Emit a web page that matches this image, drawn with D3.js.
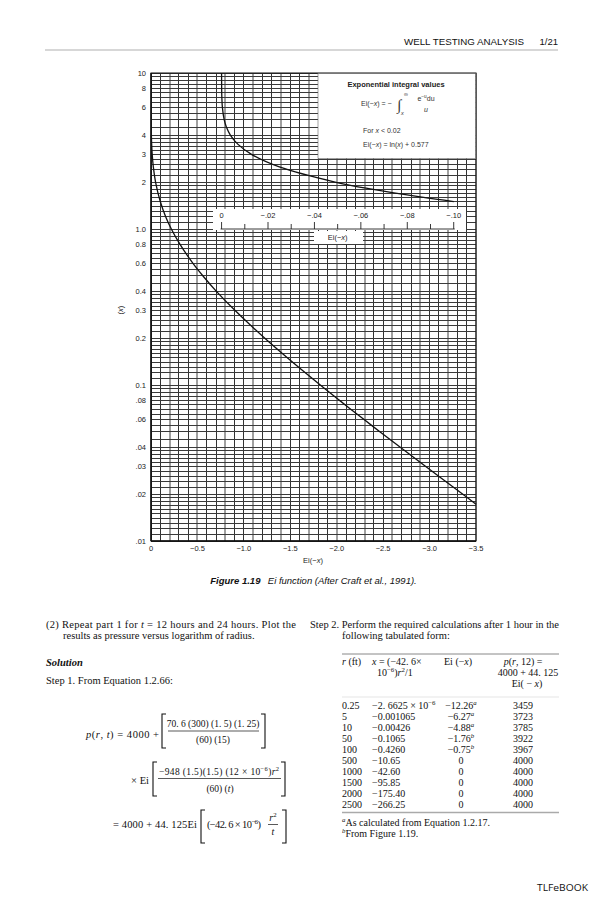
<!DOCTYPE html>
<html><head><meta charset="utf-8">
<script src="https://cdn.jsdelivr.net/npm/d3@7"></script>
<style>body{margin:0;background:#fff} svg{display:block}</style>
</head><body>
<svg id="page" width="604" height="900"></svg>
<script>
// ---------- data ----------
// lower curve: x (log axis) vs Ei(-x) on main bottom scale (0 .. -3.5)
const lowerX  = [4.0, 3.5, 3.0, 2.5, 2.0, 1.5, 1.2, 1.0, 0.8, 0.6, 0.5, 0.4, 0.3, 0.2, 0.15, 0.1, 0.08, 0.06, 0.05, 0.04, 0.03, 0.02, 0.0172];
const lowerEi = [-0.004, -0.007, -0.013, -0.025, -0.049, -0.100, -0.158, -0.219, -0.311, -0.454, -0.560, -0.702, -0.906, -1.223, -1.465, -1.823, -2.027, -2.295, -2.468, -2.681, -2.959, -3.355, -3.50];
// upper curve: x vs Ei(-x) on inset scale (0 .. -0.10)
const upperX  = [10, 8, 7, 6, 5, 4.5, 4, 3.5, 3, 2.5, 2, 1.8, 1.6, 1.5];
const upperEi = [-0.000004, -0.000038, -0.000115, -0.00036, -0.00115, -0.00207, -0.00378, -0.00697, -0.01305, -0.02491, -0.0489, -0.0647, -0.0863, -0.1000];

const xTickValues = [0, -0.5, -1.0, -1.5, -2.0, -2.5, -3.0, -3.5];
const xTickLabels = ["0", "−0.5", "−1.0", "−1.5", "−2.0", "−2.5", "−3.0", "−3.5"];
const yTickValues = [10, 8, 6, 4, 3, 2, 1, 0.8, 0.6, 0.4, 0.3, 0.2, 0.1, 0.08, 0.06, 0.04, 0.03, 0.02, 0.01];
const yTickLabels = ["10", "8", "6", "4", "3", "2", "1.0", "0.8", "0.6", "0.4", "0.3", "0.2", "0.1", ".08", ".06", ".04", ".03", ".02", ".01"];
const upperTickValues = [0, -0.02, -0.04, -0.06, -0.08, -0.10];
const upperTickLabels = ["0", "−.02", "−.04", "−.06", "−.08", "−.10"];

// table
const tableR  = ["0.25", "5", "10", "50", "100", "500", "1000", "1500", "2000", "2500"];
const tableXv = ["−2. 6625 × 10^{−6}", "−0.001065", "−0.00426", "−0.1065", "−0.4260", "−10.65", "−42.60", "−95.85", "−175.40", "−266.25"];
const tableEi = ["−12.26^{*{a}}", "−6.27^{*{a}}", "−4.88^{*{a}}", "−1.76^{*{b}}", "−0.75^{*{b}}", "0", "0", "0", "0", "0"];
const tableP  = ["3459", "3723", "3785", "3922", "3967", "4000", "4000", "4000", "4000", "4000"];

// ---------- helpers ----------
const svg = d3.select("#page");
const SANS = "'Liberation Sans', Arial, Helvetica, sans-serif";
const SERIF = "'Liberation Serif', 'Times New Roman', serif";

function rich(sel, str, fs) {
  const parts = str.split(/(\^\{(?:[^{}]|\{[^}]*\})*\}|\*\{[^}]*\}|_\{[^}]*\})/).filter(s => s.length);
  let shift = 0;
  parts.forEach(p => {
    const t = sel.append("tspan");
    let dy = 0;
    if (p.startsWith("^{")) {
      const inner = p.slice(2, -1);
      const m = inner.match(/^\*\{(.*)\}$/);
      t.text(m ? m[1] : inner).attr("font-size", fs * 0.68);
      if (m) t.attr("font-style", "italic");
      dy = -fs * 0.4 - shift; shift = -fs * 0.4;
    } else if (p.startsWith("_{")) {
      t.text(p.slice(2, -1)).attr("font-size", fs * 0.68);
      dy = fs * 0.25 - shift; shift = fs * 0.25;
    } else if (p.startsWith("*{")) {
      t.text(p.slice(2, -1)).attr("font-style", "italic");
      dy = -shift; shift = 0;
    } else {
      t.text(p); dy = -shift; shift = 0;
    }
    if (dy) t.attr("dy", dy);
  });
  return sel;
}
function txt(x, y, str, opt = {}) {
  const fs = opt.fs || 10.5;
  const t = svg.append("text").attr("x", x).attr("y", y)
    .attr("font-family", opt.family || SERIF).attr("font-size", fs)
    .attr("fill", opt.fill || "#111")
    .attr("text-anchor", opt.anchor || "start");
  if (opt.weight) t.attr("font-weight", opt.weight);
  if (opt.style) t.attr("font-style", opt.style);
  if (opt.len) t.attr("textLength", opt.len).attr("lengthAdjust", opt.adj || "spacing");
  rich(t, str, fs);
  return t;
}
function bracket(x, y0, y1, dir) {
  const w = 4 * dir;
  svg.append("path").attr("d", `M${x + w},${y0}H${x}V${y1}H${x + w}`)
    .attr("fill", "none").attr("stroke", "#111").attr("stroke-width", 1.1);
}
function hline(x0, x1, y, sw = 0.8, col = "#111") {
  svg.append("line").attr("x1", x0).attr("x2", x1).attr("y1", y).attr("y2", y)
    .attr("stroke", col).attr("stroke-width", sw);
}

// ---------- header ----------
txt(404, 45, "WELL TESTING ANALYSIS", {family: SANS, fs: 9.5, len: 120, adj: "spacingAndGlyphs"});
txt(558, 45, "1/21", {family: SANS, fs: 9.5, anchor: "end"});
hline(45, 558, 50, 1.2, "#b0b0b0");

// ---------- chart ----------
const x = d3.scaleLinear().domain([0, -3.5]).range([151, 476]);
const y = d3.scaleLog().domain([0.01, 10]).range([541, 73]);
const OFFSET = -0.76; // inset scale zero aligns with this main-scale value
const xu = d3.scaleLinear().domain([0, -0.1]).range([x(OFFSET), x(OFFSET - 2.5)]);

const chart = svg.append("g");
// grid
const vVals = d3.range(0, 36).map(i => -i / 10);
chart.append("g").attr("shape-rendering", "crispEdges").selectAll("line").data(vVals).join("line")
  .attr("x1", d => x(d)).attr("x2", d => x(d)).attr("y1", y(10)).attr("y2", y(0.01))
  .attr("stroke", (d, i) => i % 3 === 2 ? "#a0a0a0" : "#333").attr("stroke-width", (d, i) => i % 3 === 2 ? 2 : 1);
const mults = [].concat(d3.range(1, 2, 0.1), d3.range(2, 4, 0.2), d3.range(4, 10.01, 0.5));
const hVals = [];
[0.01, 0.1, 1].forEach(dec => mults.forEach(m => hVals.push(+(m * dec).toPrecision(4))));
chart.append("g").attr("shape-rendering", "crispEdges").selectAll("line").data(hVals).join("line")
  .attr("x1", x(0)).attr("x2", x(-3.5)).attr("y1", d => y(d)).attr("y2", d => y(d))
  .attr("stroke", "#3a3a3a").attr("stroke-width", 1);
// frame
chart.append("rect").attr("x", x(0)).attr("y", y(10)).attr("width", x(-3.5) - x(0)).attr("height", y(0.01) - y(10))
  .attr("fill", "none").attr("stroke", "#111").attr("stroke-width", 1);
chart.append("line").attr("x1", x(0)).attr("x2", x(0)).attr("y1", y(10)).attr("y2", y(0.01)).attr("stroke", "#111").attr("stroke-width", 1.4);
chart.append("line").attr("x1", x(0)).attr("x2", x(-3.5)).attr("y1", y(0.01)).attr("y2", y(0.01)).attr("stroke", "#111").attr("stroke-width", 1.4);

// legend box
chart.append("rect").attr("x", 318).attr("y", y(10) + 0.5).attr("width", x(-3.5) - 318 - 0.5).attr("height", 85)
  .attr("fill", "#fff").attr("stroke", "#666").attr("stroke-width", 0.6);
txt(396, 87, "Exponential integral values", {family: SANS, fs: 7.5, anchor: "middle", weight: "bold", fill: "#222"});
txt(361, 106, "Ei(−*{x}) = −", {family: SANS, fs: 7, fill: "#333"});
svg.append("text").attr("x", 397).attr("y", 110).attr("font-family", SERIF).attr("font-size", 15).attr("fill", "#333").text("∫");
txt(404, 96, "∞", {family: SANS, fs: 5.5, fill: "#333"});
txt(401, 115, "*{x}", {family: SANS, fs: 5.5, fill: "#333"});
txt(426, 101, "e^{−u}du", {family: SANS, fs: 7, fill: "#333", anchor: "middle"});
txt(426, 112, "*{u}", {family: SANS, fs: 7, fill: "#333", anchor: "middle"});
txt(363, 133, "For *{x} < 0.02", {family: SANS, fs: 7, fill: "#333"});
txt(363, 147, "Ei(−*{x}) = ln(*{x}) + 0.577", {family: SANS, fs: 7, fill: "#333"});

// inset axis band
chart.append("rect").attr("x", 213).attr("y", 209).attr("width", 253).attr("height", 21).attr("fill", "#fff");
chart.append("line").attr("x1", xu(0) - 1).attr("x2", xu(-0.1) + 1).attr("y1", 229).attr("y2", 229).attr("stroke", "#222").attr("stroke-width", 0.9);
chart.append("g").selectAll("line").data(upperTickValues).join("line")
  .attr("x1", d => xu(d)).attr("x2", d => xu(d)).attr("y1", 222).attr("y2", 229).attr("stroke", "#222").attr("stroke-width", 0.9);
chart.append("g").selectAll("line").data(upperTickValues.slice(0, -1).map(v => v - 0.01)).join("line")
  .attr("x1", d => xu(d)).attr("x2", d => xu(d)).attr("y1", 224).attr("y2", 229).attr("stroke", "#222").attr("stroke-width", 0.9);
upperTickValues.forEach((v, i) => txt(xu(v), 218, upperTickLabels[i], {family: SANS, fs: 7.5, anchor: "middle", fill: "#222"}));
chart.append("rect").attr("x", 314).attr("y", 231).attr("width", 49).attr("height", 13).attr("fill", "#fff");
txt(xu(-0.05), 240, "Ei(−*{x})", {family: SANS, fs: 7.5, anchor: "middle", fill: "#222"});

// curves
const lineLow = d3.line().x(d => x(d[1])).y(d => y(d[0])).curve(d3.curveCatmullRom);
const lineUp = d3.line().x(d => xu(d[1])).y(d => y(d[0])).curve(d3.curveCatmullRom);
chart.append("path").datum(lowerX.map((v, i) => [v, lowerEi[i]])).attr("d", lineLow)
  .attr("fill", "none").attr("stroke", "#111").attr("stroke-width", 1.3);
chart.append("path").datum(upperX.map((v, i) => [v, upperEi[i]])).attr("d", lineUp)
  .attr("fill", "none").attr("stroke", "#111").attr("stroke-width", 1.3);

// axis labels
yTickValues.forEach((v, i) => txt(146, y(v) + 2.6, yTickLabels[i], {family: SANS, fs: 7.5, anchor: "end", fill: "#222"}));
xTickValues.forEach((v, i) => txt(x(v), 551, xTickLabels[i], {family: SANS, fs: 7.5, anchor: "middle", fill: "#222"}));
txt(313, 563, "Ei(−*{x})", {family: SANS, fs: 7.5, anchor: "middle", fill: "#222"});
const yt = svg.append("text").attr("transform", "translate(123,310) rotate(-90)").attr("text-anchor", "middle")
  .attr("font-family", SANS).attr("font-size", 7.5).attr("fill", "#222");
rich(yt, "(*{x})", 7.5);

// caption
const cap = svg.append("text").attr("x", 313.5).attr("y", 584).attr("text-anchor", "middle")
  .attr("font-family", SANS).attr("font-size", 9.5).attr("font-style", "italic").attr("fill", "#111");
cap.append("tspan").attr("font-weight", "bold").text("Figure 1.19");
cap.append("tspan").text("\u2002 Ei function (After Craft et al., 1991).");

// ---------- left column ----------
txt(46, 628, "(2) Repeat part 1 for *{t} = 12 hours and 24 hours. Plot the", {len: 250});
txt(63, 639, "results as pressure versus logarithm of radius.");
txt(46, 666, "Solution", {weight: "bold", style: "italic"});
txt(46, 684, "Step 1. From Equation 1.2.66:");

// equation 1
txt(86, 738, "*{p}(*{r}, *{t}) = 4000 +", {len: 73});
bracket(162, 714, 748, 1);
txt(213, 727, "70. 6 (300) (1. 5) (1. 25)", {anchor: "middle", fs: 9.5});
hline(168, 259, 731, 0.7);
txt(213, 743, "(60) (15)", {anchor: "middle", fs: 9.5});
bracket(265, 714, 748, -1);

// equation 2
txt(149, 784, "× Ei", {anchor: "end"});
bracket(153, 762, 796, 1);
txt(159, 775, "−948 (1.5)(1.5) (12 × 10^{−6})*{r}^{2}", {fs: 9.5, len: 120});
hline(158, 281, 778.5, 0.7);
txt(220, 792, "(60) (*{t})", {anchor: "middle", fs: 9.5});
bracket(285, 762, 796, -1);

// equation 3
txt(113, 828, "= 4000 + 44. 125Ei", {len: 84});
bracket(201, 810, 843, 1);
txt(207, 828, "(−42. 6 × 10^{−6})", {len: 54});
txt(273, 821, "*{r}^{2}", {anchor: "middle", fs: 10});
hline(268, 278, 824.5, 0.7);
txt(273, 835, "*{t}", {anchor: "middle", fs: 10});
bracket(286, 810, 843, -1);

// ---------- right column ----------
txt(310, 628, "Step 2. Perform the required calculations after 1 hour in the", {len: 249});
txt(342, 639, "following tabulated form:");

const TF = 10;
hline(342, 559, 654, 1, "#888");
txt(342, 665, "*{r} (ft)", {fs: TF});
txt(372, 665, "*{x} = (−42. 6×", {fs: TF});
txt(377, 676, "10^{−6})*{r}^{2}/1", {fs: TF});
txt(444, 665, "Ei (−*{x})", {fs: TF});
txt(523, 665, "*{p}(*{r}, 12) =", {fs: TF, anchor: "middle"});
txt(528, 676, "4000 + 44. 125", {fs: TF, anchor: "middle"});
txt(527, 687, "Ei( − *{x})", {fs: TF, anchor: "middle"});
hline(342, 559, 697, 0.5, "#c8c8c8");

tableR.forEach((r, i) => {
  const yy = 709 + i * 11;
  txt(342, yy, r, {fs: TF});
  txt(372, yy, tableXv[i], {fs: TF});
  txt(461, yy, tableEi[i], {fs: TF, anchor: "middle"});
  txt(523, yy, tableP[i], {fs: TF, anchor: "middle"});
});
hline(342, 559, 812.5, 1.6, "#aaa");
txt(342, 826, "^{*{a}}As calculated from Equation 1.2.17.", {fs: 10});
txt(342, 837, "^{*{b}}From Figure 1.19.", {fs: 10});

// footer
txt(537, 891, "TLFeBOOK", {family: "'Open Sans', 'Liberation Sans', sans-serif", fs: 9.5, len: 51, adj: "spacingAndGlyphs"});
</script>
</body></html>
